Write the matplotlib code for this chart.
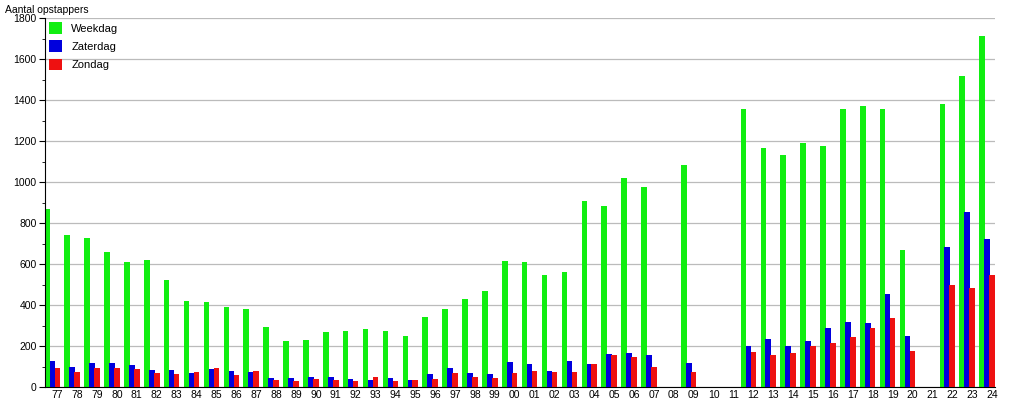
import matplotlib.pyplot as plt
import numpy as np

# jaartallen (77 t/m 24)
jaren = ["77", "78", "79", "80", "81", "82", "83", "84", "85", "86", "87", "88",
         "89", "90", "91", "92", "93", "94", "95", "96", "97", "98", "99", "00",
         "01", "02", "03", "04", "05", "06", "07", "08", "09", "10", "11", "12",
         "13", "14", "15", "16", "17", "18", "19", "20", "21", "22", "23", "24"]

# aantal opstappers (0 = geen telling)
weekdag = [870, 743, 728, 660, 611, 621, 523, 421, 416, 392, 382, 294,
           226, 231, 270, 275, 285, 275, 250, 343, 382, 431, 470, 616,
           611, 548, 562, 909, 884, 1021, 977, 0, 1085, 0, 0, 1358,
           1167, 1133, 1192, 1177, 1358, 1372, 1358, 670, 0, 1382, 1519, 1714]
zaterdag = [128, 99, 119, 119, 109, 85, 85, 70, 89, 80, 75, 46,
            46, 51, 51, 41, 36, 46, 36, 65, 94, 70, 65, 123,
            114, 80, 128, 114, 162, 167, 158, 0, 119, 0, 0, 202,
            236, 202, 226, 289, 319, 314, 455, 250, 0, 684, 855, 723]
zondag = [94, 75, 94, 94, 89, 70, 65, 75, 94, 60, 80, 36,
          31, 41, 36, 31, 51, 31, 36, 41, 70, 51, 46, 70,
          80, 75, 75, 114, 158, 148, 99, 0, 75, 0, 0, 172,
          158, 167, 202, 216, 245, 289, 338, 177, 0, 499, 484, 548]

plt.rcParams['font.family'] = ['Liberation Sans', 'DejaVu Sans']

x = np.arange(len(jaren))
w = 0.28

fig = plt.figure(figsize=(10.15, 4.0), dpi=100)
ax = fig.add_axes([0.0443, 0.032, 0.936, 0.923])

ax.bar(x - 0.5, weekdag, width=w, color="#11ee11", label="Weekdag", zorder=2)
ax.bar(x - 0.25, zaterdag, width=w, color="#0000dd", label="Zaterdag", zorder=3)
ax.bar(x, zondag, width=w, color="#ee1111", label="Zondag", zorder=4)

ax.set_xlim(-0.62, 47.15)
ax.set_ylim(0, 1800)
ax.set_yticks(np.arange(0, 1801, 200))
ax.set_yticks(np.arange(100, 1800, 200), minor=True)
ax.set_xticks(x)
ax.set_xticklabels(jaren)
ax.tick_params(axis="x", length=0, labelsize=7.5, pad=2)
ax.tick_params(axis="y", which="major", length=4, labelsize=7.5, pad=2)
ax.tick_params(axis="y", which="minor", length=2)
ax.grid(axis="y", color="#bbbbbb", linewidth=0.9, zorder=0)

ax.spines["top"].set_visible(False)
ax.spines["right"].set_visible(False)

fig.text(0.005, 0.975, "Aantal opstappers", fontsize=7.5, va="center", ha="left")

# legenda met grotere blokjes
ax.legend(loc="upper left", frameon=False, fontsize=8, handlelength=1.2,
          handleheight=1.2, handletextpad=0.8, labelspacing=0.62,
          borderpad=0.25, borderaxespad=0.12, bbox_to_anchor=(0.0, 1.0))

plt.savefig("out.png", dpi=100)
